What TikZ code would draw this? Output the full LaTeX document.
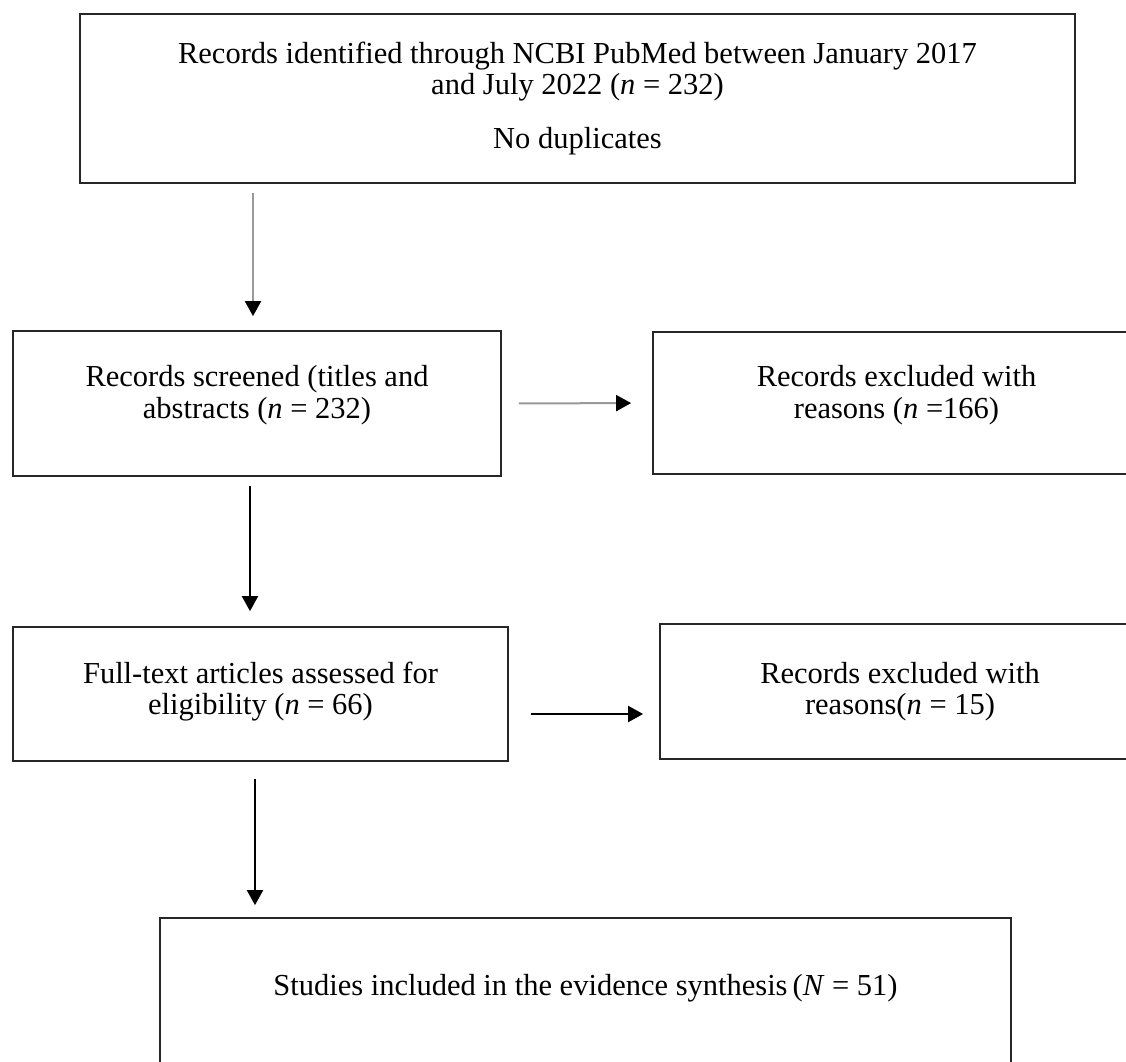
\documentclass[tikz,border=0pt]{standalone}
\usepackage{fontspec}
\setmainfont{Liberation Serif}
\usetikzlibrary{arrows.meta}
\newcommand{\padbelow}[1]{\rule[-#1]{0pt}{0pt}}

\begin{document}
\begin{tikzpicture}[x=0.4pt, y=-0.4pt,
    box/.style={draw=black!85, line width=0.7pt, inner sep=0pt, align=center,
        font=\fontsize{12.2}{12.6}\selectfont},
    flow/.style={line width=0.8pt, -{Triangle[width=6.4pt,length=6pt]}},
    faint/.style={flow, draw=black!40, -{Triangle[width=6.4pt,length=6pt,color=black]}},
]
    \clip (0,0) rectangle (1126,1061);

    % boxes
    \node[box, minimum width=398pt, minimum height=67.6pt] (found) at (577.5,98.5)
        {Records identified through NCBI PubMed between January 2017\\
         and July 2022 (\textit{n} = 232)\\[9pt]
         No duplicates};
    \node[box, minimum width=195.2pt, minimum height=58pt] (screened) at (257,403.5)
        {Records screened (titles and\\ abstracts (\textit{n} = 232)\padbelow{9.2pt}};
    \node[box, minimum width=194.8pt, minimum height=56.8pt] (excl1) at (896.5,403)
        {Records excluded with\\ reasons (\textit{n} =166)\padbelow{8.8pt}};
    \node[box, minimum width=198pt, minimum height=53.6pt] (fulltext) at (260.5,694)
        {Full-text articles assessed for\\ eligibility (\textit{n} = 66)\padbelow{4.8pt}};
    \node[box, minimum width=192pt, minimum height=54pt] (excl2) at (900,691.5)
        {Records excluded with\\ reasons(\textit{n} = 15)};
    \node[box, minimum width=340.4pt, minimum height=64.8pt] (included) at (585.5,999)
        {Studies included in the evidence synthesis\,(\textit{N} = 51)\padbelow{11.2pt}};

    % arrows
    \draw[faint, shorten <=3.6pt, shorten >=5.6pt]
        ([xshift=-1.6pt]screened.north |- found.south) -- ([xshift=-1.6pt]screened.north);
    \draw[faint, shorten <=6.8pt, shorten >=8.4pt] (screened.east) -- (excl1.west);
    \draw[flow, shorten <=3.6pt, shorten >=6pt]
        ([xshift=-2.8pt]screened.south) -- ([xshift=-2.8pt]screened.south |- fulltext.north);
    \draw[flow, shorten <=8.8pt, shorten >=6.4pt]
        ([yshift=-8pt]fulltext.east) -- ([yshift=-8pt]fulltext.east -| excl2.west);
    \draw[flow, shorten <=6.8pt, shorten >=4.8pt]
        ([xshift=-2.2pt]fulltext.south) -- ([xshift=-2.2pt]fulltext.south |- included.north);
\end{tikzpicture}
\end{document}
